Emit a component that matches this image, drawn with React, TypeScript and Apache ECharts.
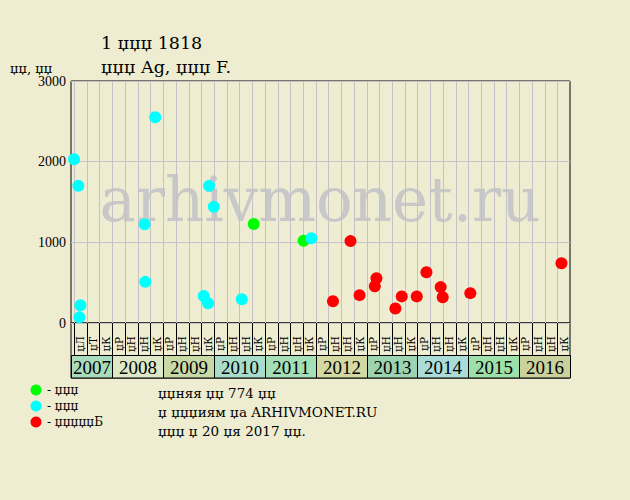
import React, { useEffect, useRef } from 'react';
import * as echarts from 'echarts';

// ---- texts ----
const titleText = '1 џџџ 1818';
const subtitleText = 'џџџ Ag, џџџ F.';
const yUnitText = 'џџ, џџ';
const watermarkText = 'arhivmonet.ru';
const legendNames = ['- џџџ', '- џџџ', '- џџџџџБ'];
const noteLines = ['џџняя џџ 774 џџ', 'џ џџџиям џа ARHIVMONET.RU', 'џџџ џ 20 џя 2017 џџ.'];

// ---- axis categories ----
const years = ['2007', '2008', '2009', '2010', '2011', '2012', '2013', '2014', '2015', '2016'];
const quarterLabels = [
  ['џЛ', 'џТ', 'џК'],
  ['џР', 'џН', 'џН', 'џК'],
  ['џР', 'џН', 'џН', 'џК'],
  ['џР', 'џН', 'џН', 'џК'],
  ['џР', 'џН', 'џН', 'џК'],
  ['џР', 'џН', 'џН', 'џК'],
  ['џР', 'џН', 'џН', 'џК'],
  ['џР', 'џН', 'џН', 'џК'],
  ['џР', 'џН', 'џН', 'џК'],
  ['џР', 'џН', 'џН', 'џК'],
];
const yTickValues = [0, 1000, 2000, 3000];

// ---- series values: t = position in quarter columns, v = price ----
const greenT = [14.13, 18.05];
const greenV = [1227, 1020];
const cyanT = [0.0, 0.34, 0.5, 0.42, 6.38, 5.55, 5.6, 10.62, 10.99, 10.2, 10.54, 13.19, 18.66];
const cyanV = [2030, 1700, 220, 70, 2550, 1225, 510, 1700, 1440, 335, 245, 295, 1050];
const redT = [20.36, 21.74, 22.45, 23.65, 23.78, 25.27, 25.77, 26.95, 27.71, 28.83, 28.99, 31.16, 38.33];
const redV = [270, 1015, 345, 455, 555, 180, 330, 330, 630, 445, 320, 370, 740];

// ---- styles ----
const BG = '#efedd1';
const GRID_C = '#c4c2c8';
const seriesColors = ['#00ff00', '#00ffff', '#ff0000'];
const yearColors = ['#a8dcbc', '#dde9c6', '#c9d9a6', '#a9ddcb', '#a4dfb6', '#d2d9a3', '#9dd3b1', '#abdcd7', '#9de0aa', '#c9d19c'];
const SERIF = '"DejaVu Serif", serif';
const NUM_SERIF = '"Liberation Serif", serif';

export default function App() {
  const ref = useRef<HTMLDivElement>(null);

  useEffect(() => {
    document.body.style.margin = '0';
    document.body.style.background = BG;
    const chart = echarts.init(ref.current!, null, { renderer: 'svg' });

    const X_MIN = -0.24;
    const columns: { k: number; label: string }[] = [];
    const yearSpans: { s: number; e: number; label: string }[] = [];
    let k = 0;
    quarterLabels.forEach((qs, yi) => {
      const start = k;
      qs.forEach((q) => {
        columns.push({ k, label: q });
        k += 1;
      });
      yearSpans.push({ s: yi === 0 ? X_MIN : start, e: k, label: years[yi] });
    });
    const X_MAX = k;
    const TICK_ROW_H = 32;

    const pts = (t: number[], v: number[]) => t.map((x, i) => [x, v[i]]);

    const option: any = {
      animation: false,
      backgroundColor: BG,
      grid: [
        { left: 71, top: 81, width: 499, height: 242, show: true, borderColor: '#000', borderWidth: 1, backgroundColor: 'transparent' },
        { left: 71, top: 323, width: 499, height: 55, show: true, borderColor: '#000', borderWidth: 1, backgroundColor: 'transparent' },
      ],
      xAxis: [
        { type: 'value', gridIndex: 0, min: X_MIN, max: X_MAX, show: false },
        { type: 'value', gridIndex: 1, min: X_MIN, max: X_MAX, show: false },
      ],
      yAxis: [
        {
          type: 'value',
          gridIndex: 0,
          min: yTickValues[0],
          max: yTickValues[yTickValues.length - 1],
          interval: yTickValues[1] - yTickValues[0],
          axisLine: { show: false },
          axisTick: { show: false },
          splitLine: { show: true, lineStyle: { color: GRID_C, width: 1 } },
          axisLabel: { color: '#000', fontFamily: NUM_SERIF, fontSize: 14, margin: 5, formatter: (v: number) => String(v) },
        },
        { type: 'value', gridIndex: 1, min: 0, max: 1, show: false },
      ],
      graphic: [
        { type: 'text', x: 101, y: 43, z: 5, style: { text: titleText, fontFamily: SERIF, fontSize: 17.5, fill: '#000', verticalAlign: 'middle' } },
        { type: 'text', x: 101, y: 67, z: 5, style: { text: subtitleText, fontFamily: SERIF, fontSize: 17.5, fill: '#000', verticalAlign: 'middle' } },
        { type: 'text', x: 10, y: 68, z: 5, style: { text: yUnitText, fontFamily: SERIF, fontSize: 13, fill: '#000', verticalAlign: 'middle' } },
        { type: 'text', x: 320, y: 199, z: 1, silent: true, style: { text: watermarkText, fontFamily: SERIF, fontSize: 61, fill: '#c8c8c8', align: 'center', verticalAlign: 'middle' } },
        ...legendNames.flatMap((n, i) => [
          { type: 'circle', shape: { cx: 36, cy: 390 + i * 16, r: 5.5 }, style: { fill: seriesColors[i] } },
          { type: 'text', x: 47, y: 390 + i * 16, style: { text: n, fontFamily: SERIF, fontSize: 12, fill: '#000', verticalAlign: 'middle' } },
        ]),
        ...noteLines.map((t, i) => ({
          type: 'text', x: 158, y: 393 + i * 19, style: { text: t, fontFamily: SERIF, fontSize: 13.5, fill: '#000', verticalAlign: 'middle' },
        })),
      ],
      series: [
        {
          type: 'custom',
          xAxisIndex: 0,
          yAxisIndex: 0,
          z: 1,
          silent: true,
          data: columns.map((c) => [c.k, 0]),
          renderItem: (params: any, api: any) => {
            const kk = api.value(0);
            const top = api.coord([kk, yTickValues[yTickValues.length - 1]]);
            const bot = api.coord([kk, 0]);
            const x = Math.round(top[0]) + 0.5;
            return { type: 'line', shape: { x1: x, y1: top[1], x2: x, y2: bot[1] }, style: { stroke: GRID_C, lineWidth: 1 } };
          },
        },
        {
          type: 'custom',
          xAxisIndex: 1,
          yAxisIndex: 1,
          z: 3,
          silent: true,
          clip: false,
          data: columns.map((c) => [c.k, 0]),
          renderItem: (params: any, api: any) => {
            const kk = api.value(0);
            const cs = params.coordSys;
            const x0 = api.coord([kk, 0])[0];
            const x1 = api.coord([kk + 1, 0])[0];
            const xl = Math.round(x0) + 0.5;
            return {
              type: 'group',
              children: [
                { type: 'line', shape: { x1: xl, y1: cs.y, x2: xl, y2: cs.y + TICK_ROW_H }, style: { stroke: '#000', lineWidth: 1 } },
                {
                  type: 'text', x: (x0 + x1) / 2, y: cs.y + 21, rotation: Math.PI / 2,
                  style: { text: columns[params.dataIndex].label, fontFamily: SERIF, fontSize: 10.5, fill: '#000', align: 'center', verticalAlign: 'middle' },
                },
              ],
            };
          },
        },
        {
          type: 'custom',
          xAxisIndex: 1,
          yAxisIndex: 1,
          z: 3,
          silent: true,
          clip: false,
          data: yearSpans.map((y) => [y.s, y.e]),
          renderItem: (params: any, api: any) => {
            const cs = params.coordSys;
            const x0 = Math.round(api.coord([api.value(0), 0])[0]) + 0.5;
            const x1 = Math.round(api.coord([api.value(1), 0])[0]) + 0.5;
            const y0 = cs.y + TICK_ROW_H + 0.5;
            const y1 = cs.y + cs.height;
            return {
              type: 'group',
              children: [
                { type: 'rect', shape: { x: x0, y: y0, width: x1 - x0, height: y1 - y0 }, style: { fill: yearColors[params.dataIndex], stroke: '#000', lineWidth: 1 } },
                {
                  type: 'text', x: (x0 + x1) / 2, y: (y0 + y1) / 2 + 1,
                  style: { text: yearSpans[params.dataIndex].label, fontFamily: NUM_SERIF, fontSize: 19, fill: '#000', align: 'center', verticalAlign: 'middle' },
                },
              ],
            };
          },
        },
        { type: 'scatter', name: 'g', xAxisIndex: 0, yAxisIndex: 0, z: 4, symbolSize: 12, itemStyle: { color: seriesColors[0], opacity: 1 }, data: pts(greenT, greenV) },
        { type: 'scatter', name: 'c', xAxisIndex: 0, yAxisIndex: 0, z: 4, symbolSize: 12, itemStyle: { color: seriesColors[1], opacity: 1 }, data: pts(cyanT, cyanV) },
        { type: 'scatter', name: 'r', xAxisIndex: 0, yAxisIndex: 0, z: 4, symbolSize: 12, itemStyle: { color: seriesColors[2], opacity: 1 }, data: pts(redT, redV) },
      ],
    };

    chart.setOption(option);
    return () => chart.dispose();
  }, []);

  return <div ref={ref} style={{ width: 630, height: 500 }} />;
}
